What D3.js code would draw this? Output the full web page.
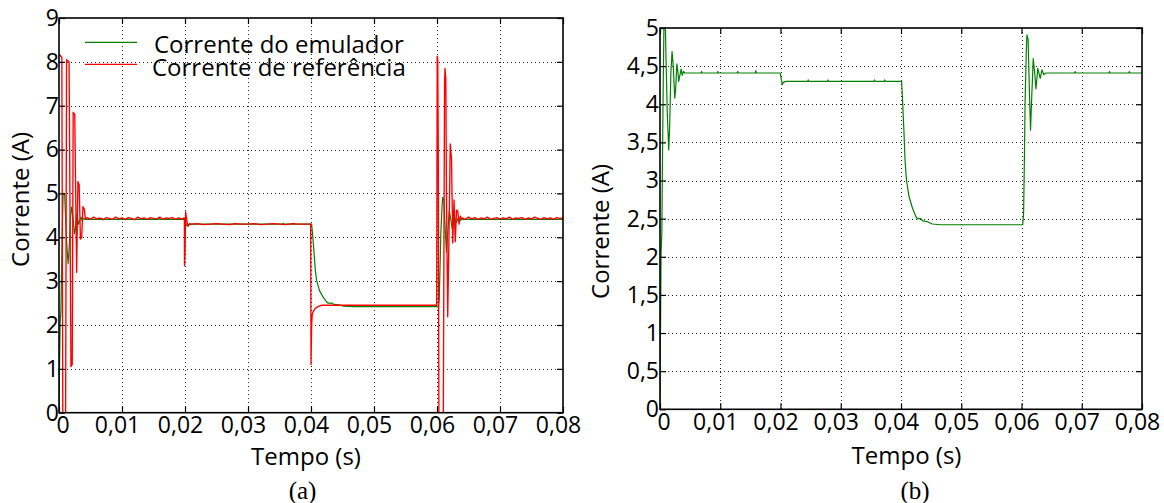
<!DOCTYPE html>
<html>
<head>
<meta charset="utf-8">
<script src="https://cdn.jsdelivr.net/npm/d3@7"></script>
<style>
  body { margin: 0; background: #fff; }
  svg text { font-family: "Open Sans", sans-serif; fill: #000; }
</style>
</head>
<body>
<svg id="chart" width="1164" height="503"></svg>
<script>
// Time axis (s) and its tick labels (comma decimal separator)
const timeTicks = [0, 0.01, 0.02, 0.03, 0.04, 0.05, 0.06, 0.07, 0.08];
const timeLabels = ["0", "0,01", "0,02", "0,03", "0,04", "0,05", "0,06", "0,07", "0,08"];

// Current axes (A)
const currentTicksA = [0, 1, 2, 3, 4, 5, 6, 7, 8, 9];
const currentLabelsA = ["0", "1", "2", "3", "4", "5", "6", "7", "8", "9"];
const currentTicksB = [0, 0.5, 1, 1.5, 2, 2.5, 3, 3.5, 4, 4.5, 5];
const currentLabelsB = ["0", "0,5", "1", "1,5", "2", "2,5", "3", "3,5", "4", "4,5", "5"];

const seriesNames = ["Corrente do emulador", "Corrente de referência"];

// Emulator current [t (s), i (A)]
const emulatorCurrent = [
  [0, 0], [0.00004, 0.7], [0.0001, 1.2], [0.00018, 2.05], [0.0003, 2.3], [0.0005, 4.0],
  [0.00065, 5.0], [0.0009, 5.0], [0.001, 4.6], [0.0012, 3.9], [0.00145, 3.4], [0.0016, 3.7],
  [0.0018, 4.4], [0.002, 4.69], [0.0022, 4.5], [0.00245, 4.08], [0.0026, 4.2], [0.0028, 4.53],
  [0.003, 4.4], [0.0031, 4.3], [0.0033, 4.38], [0.0035, 4.46], [0.0037, 4.38], [0.0039, 4.43],
  [0.0041, 4.41], [0.0068, 4.41], [0.0069, 4.43], [0.007, 4.41], [0.0095, 4.41], [0.0096, 4.43],
  [0.0097, 4.41], [0.0128, 4.41], [0.0129, 4.43], [0.013, 4.41], [0.0158, 4.41], [0.0159, 4.44],
  [0.016, 4.41], [0.01995, 4.41], [0.0201, 4.34], [0.0203, 4.26], [0.0205, 4.29], [0.021, 4.30],
  [0.0245, 4.30], [0.0246, 4.32], [0.0247, 4.30], [0.0278, 4.30], [0.0279, 4.32], [0.028, 4.30],
  [0.0355, 4.30], [0.0356, 4.32], [0.0357, 4.30], [0.0372, 4.30], [0.0373, 4.32], [0.0374, 4.30],
  [0.0401, 4.30], [0.04023, 4.10], [0.0405, 3.62], [0.04067, 3.27], [0.0409, 3.01], [0.04133, 2.79],
  [0.0419, 2.64], [0.04245, 2.53], [0.0427, 2.50], [0.0433, 2.50], [0.0436, 2.47], [0.0444, 2.46],
  [0.0452, 2.43], [0.0466, 2.42], [0.0602, 2.42], [0.06035, 2.57], [0.0605, 3.4], [0.0606, 4.06],
  [0.0608, 4.7], [0.0609, 4.91], [0.0611, 4.85], [0.0613, 4.2], [0.0615, 3.66], [0.0617, 4.1],
  [0.06195, 4.6], [0.0622, 4.4], [0.0624, 4.2], [0.0627, 4.47], [0.0631, 4.34], [0.0634, 4.45],
  [0.0637, 4.39], [0.0641, 4.41], [0.0688, 4.41], [0.0689, 4.43], [0.069, 4.41], [0.0745, 4.41],
  [0.0746, 4.43], [0.0747, 4.41], [0.0778, 4.41], [0.0779, 4.43], [0.078, 4.41], [0.08, 4.41]
];

// Reference current [t (s), i (A)]
const referenceCurrent = [
  [0, 8.18], [0.00045, 8.1], [0.0006, 0], [0.00105, 0], [0.0012, 8.05], [0.0016, 8.0],
  [0.0019, 1.05], [0.0021, 1.1], [0.00225, 6.85], [0.0025, 6.8], [0.0028, 3.2], [0.003, 5.27],
  [0.0032, 5.2], [0.0034, 3.96], [0.0036, 4.0], [0.0038, 4.7], [0.004, 4.65], [0.0042, 4.42],
  [0.0045, 4.45], [0.005, 4.41], [0.0055, 4.46], [0.006, 4.42], [0.0065, 4.44], [0.007, 4.40],
  [0.0075, 4.45], [0.008, 4.43], [0.0085, 4.41], [0.009, 4.46], [0.0095, 4.42], [0.01, 4.44],
  [0.0105, 4.41], [0.011, 4.45], [0.0115, 4.43], [0.012, 4.40], [0.0125, 4.46], [0.013, 4.42],
  [0.0135, 4.44], [0.014, 4.41], [0.0145, 4.45], [0.015, 4.43], [0.0155, 4.42], [0.016, 4.46],
  [0.0165, 4.41], [0.017, 4.44], [0.0175, 4.43], [0.018, 4.45], [0.0185, 4.41], [0.019, 4.44],
  [0.0195, 4.42], [0.0199, 4.44], [0.01992, 3.35], [0.02, 3.6], [0.0201, 4.58], [0.0203, 4.36],
  [0.0205, 4.25], [0.0207, 4.31], [0.021, 4.30], [0.022, 4.31], [0.023, 4.29], [0.024, 4.30],
  [0.025, 4.31], [0.026, 4.30], [0.027, 4.29], [0.028, 4.31], [0.029, 4.30], [0.03, 4.30],
  [0.031, 4.31], [0.032, 4.29], [0.033, 4.30], [0.034, 4.31], [0.035, 4.30], [0.036, 4.29],
  [0.037, 4.31], [0.038, 4.30], [0.039, 4.30], [0.03995, 4.30], [0.04, 1.1], [0.0401, 2.0],
  [0.0402, 2.25], [0.0404, 2.32], [0.0407, 2.38], [0.0411, 2.42], [0.0417, 2.45], [0.05995, 2.45],
  [0.06003, 8.13], [0.06012, 8.05], [0.0602, 6.0], [0.0603, 0], [0.061, 0], [0.0612, 7.5],
  [0.06127, 7.85], [0.0614, 7.6], [0.0615, 5.0], [0.0617, 2.19], [0.0619, 4.0], [0.0621, 6.13],
  [0.0623, 5.8], [0.0625, 3.87], [0.0627, 4.85], [0.0629, 3.9], [0.0631, 4.62], [0.0633, 4.6],
  [0.0635, 4.3], [0.0637, 4.48], [0.0639, 4.43], [0.064, 4.44], [0.0645, 4.41], [0.065, 4.46],
  [0.0655, 4.42], [0.066, 4.45], [0.0665, 4.41], [0.067, 4.44], [0.0675, 4.42], [0.068, 4.46],
  [0.0685, 4.41], [0.069, 4.43], [0.0695, 4.45], [0.07, 4.41], [0.0705, 4.44], [0.071, 4.42],
  [0.0715, 4.46], [0.072, 4.41], [0.0725, 4.44], [0.073, 4.43], [0.0735, 4.45], [0.074, 4.41],
  [0.0745, 4.44], [0.075, 4.42], [0.0755, 4.46], [0.076, 4.43], [0.0765, 4.41], [0.077, 4.45],
  [0.0775, 4.42], [0.078, 4.44], [0.0785, 4.41], [0.079, 4.45], [0.0795, 4.43], [0.08, 4.44]
];

const GREEN = "#008000";
const RED = "#ff0000";
const FONT = "'Open Sans', sans-serif";

const svg = d3.select("#chart");

function drawPanel(cfg) {
  const x = d3.scaleLinear().domain([timeTicks[0], timeTicks[timeTicks.length - 1]]).range([cfg.left, cfg.right]);
  const y = d3.scaleLinear().domain([cfg.yTicks[0], cfg.yTicks[cfg.yTicks.length - 1]]).range([cfg.bottom, cfg.top]);
  const g = svg.append("g");

  // dotted grid
  const grid = g.append("g").attr("stroke", "#222").attr("stroke-width", 1).attr("stroke-dasharray", "1,3");
  grid.selectAll("line.v").data(timeTicks.slice(1, -1)).join("line")
    .attr("x1", d => Math.round(x(d)) + 0.5).attr("x2", d => Math.round(x(d)) + 0.5)
    .attr("y1", cfg.top).attr("y2", cfg.bottom);
  grid.selectAll("line.h").data(cfg.yTicks.slice(1, -1)).join("line")
    .attr("y1", d => Math.round(y(d)) + 0.5).attr("y2", d => Math.round(y(d)) + 0.5)
    .attr("x1", cfg.left).attr("x2", cfg.right);

  // traces
  const clipId = "clip-" + cfg.id;
  g.append("clipPath").attr("id", clipId).append("rect")
    .attr("x", cfg.left).attr("y", cfg.top - 1)
    .attr("width", cfg.right - cfg.left).attr("height", cfg.bottom - cfg.top + 1);
  const line = d3.line().x(d => x(d[0])).y(d => y(d[1]));
  cfg.series.forEach(s => {
    g.append("path").datum(s.data)
      .attr("d", line).attr("fill", "none")
      .attr("stroke", s.color).attr("stroke-width", s.width)
      .attr("stroke-linejoin", "round")
      .attr("clip-path", `url(#${clipId})`);
  });

  // axes with inward ticks on all four sides
  const styleAxis = sel => {
    sel.select(".domain").remove();
    sel.attr("font-family", FONT).attr("font-size", 23);
    sel.selectAll(".tick line").attr("stroke", "#000").attr("stroke-width", 1.2);
  };
  const xb = g.append("g").attr("transform", `translate(0,${cfg.bottom})`)
    .call(d3.axisBottom(x).tickValues(timeTicks).tickSize(-6).tickPadding(4)
      .tickFormat((d, i) => timeLabels[i]))
    .call(styleAxis);
  xb.selectAll(".tick text").attr("dx", (d, i) => i === 0 ? 3.5 : -5);
  g.append("g").attr("transform", `translate(0,${cfg.top})`)
    .call(d3.axisTop(x).tickValues(timeTicks).tickSize(-6).tickFormat(""))
    .call(styleAxis);
  g.append("g").attr("transform", `translate(${cfg.left},0)`)
    .call(d3.axisLeft(y).tickValues(cfg.yTicks).tickSize(-6).tickPadding(cfg.yPad)
      .tickFormat((d, i) => cfg.yLabels[i]))
    .call(styleAxis);
  g.append("g").attr("transform", `translate(${cfg.right},0)`)
    .call(d3.axisRight(y).tickValues(cfg.yTicks).tickSize(-6).tickFormat(""))
    .call(styleAxis);

  // frame
  g.append("rect")
    .attr("x", cfg.left).attr("y", cfg.top)
    .attr("width", cfg.right - cfg.left).attr("height", cfg.bottom - cfg.top)
    .attr("fill", "none").attr("stroke", "#000").attr("stroke-width", 1.6);

  // axis titles
  g.append("text")
    .attr("transform", `translate(${cfg.yTitle[0]},${cfg.yTitle[1]}) rotate(-90)`)
    .attr("text-anchor", "middle").attr("font-size", 24).text("Corrente (A)");
  g.append("text")
    .attr("x", cfg.xTitle[0]).attr("y", cfg.xTitle[1])
    .attr("text-anchor", "middle").attr("font-size", 24).text("Tempo (s)");
  g.append("text")
    .attr("x", cfg.caption[0]).attr("y", cfg.caption[1])
    .attr("text-anchor", "middle").attr("font-size", 25)
    .style("font-family", "'Liberation Serif', 'Times New Roman', serif")
    .text(cfg.captionText);

  return g;
}

const panelA = drawPanel({
  id: "a", left: 59, right: 563, top: 18, bottom: 412.7,
  yTicks: currentTicksA, yLabels: currentLabelsA, yPad: 0,
  series: [
    { data: emulatorCurrent, color: GREEN, width: 1.2 },
    { data: referenceCurrent, color: RED, width: 1.35 }
  ],
  yTitle: [29, 199.5], xTitle: [306, 465], caption: [302.5, 499], captionText: "(a)"
});

drawPanel({
  id: "b", left: 660, right: 1142, top: 28, bottom: 409.3,
  yTicks: currentTicksB, yLabels: currentLabelsB, yPad: 1,
  series: [{ data: emulatorCurrent, color: GREEN, width: 1.2 }],
  yTitle: [609, 231.5], xTitle: [906.5, 464], caption: [915, 499], captionText: "(b)"
});

// legend of panel (a)
const legend = panelA.append("g");
const legendRows = [
  { name: seriesNames[0], color: GREEN, ly: 42.3, tx: 154, ty: 53 },
  { name: seriesNames[1], color: RED, ly: 64.3, tx: 152, ty: 76 }
];
legendRows.forEach(r => {
  legend.append("line").attr("x1", 85).attr("x2", 137).attr("y1", r.ly).attr("y2", r.ly)
    .attr("stroke", r.color).attr("stroke-width", 1.3);
  legend.append("text").attr("x", r.tx).attr("y", r.ty).attr("font-size", 24).text(r.name);
});
</script>
</body>
</html>
